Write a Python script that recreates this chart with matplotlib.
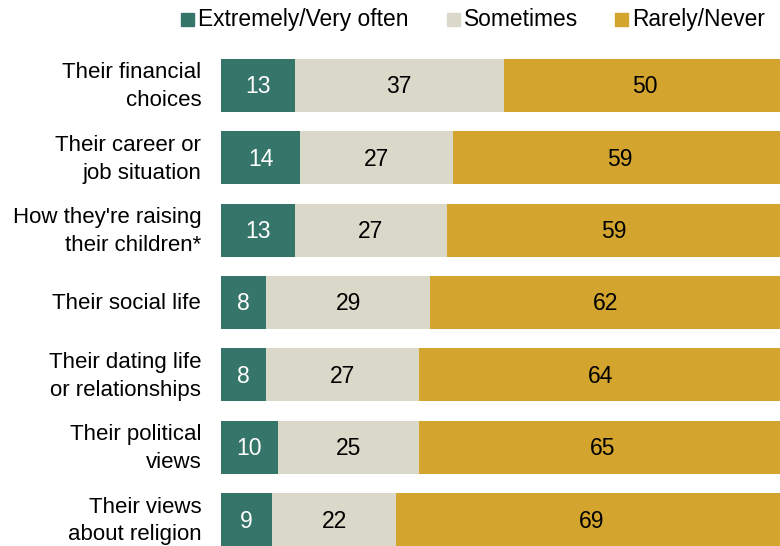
import matplotlib.pyplot as plt
from matplotlib.patches import Rectangle

plt.rcParams['font.family'] = ['Liberation Sans', 'DejaVu Sans']

categories = ["Their financial\nchoices", "Their career or\njob situation",
              "How they're raising\ntheir children*", "Their social life",
              "Their dating life\nor relationships", "Their political\nviews",
              "Their views\nabout religion"]
often = [13, 14, 13, 8, 8, 10, 9]
sometimes = [37, 27, 27, 29, 27, 25, 22]
rarely = [50, 59, 59, 62, 64, 65, 69]
series_names = ["Extremely/Very often", "Sometimes", "Rarely/Never"]
colors = ["#36766a", "#dad8c8", "#d3a52f"]
text_colors = ["white", "black", "black"]

W, H = 780, 546
fig = plt.figure(figsize=(W / 100, H / 100), dpi=100)
ax = fig.add_axes([221 / W, 0, 1 - 221 / W, 487 / H])

bh = 0.73
ys = list(range(len(categories)))
left = [0] * len(categories)
for vals, col, tc in zip([often, sometimes, rarely], colors, text_colors):
    ax.barh(ys, vals, left=left, height=bh, color=col, edgecolor='none')
    for y, v, l in zip(ys, vals, left):
        ax.text(l + v / 2, y + 0.02, str(v), ha='center', va='center', color=tc, fontsize=16.5)
    left = [a + b for a, b in zip(left, vals)]

# chart is cut off a little on the right, like the original
ax.set_xlim(0, 98.8)
ax.set_ylim(len(categories) - 1 + bh / 2, -bh / 2)
ax.axis('off')

for y, c in zip(ys, categories):
    ax.text(-3.5, y + 0.02, c, ha='right', va='center', fontsize=16, linespacing=1.43)

# legend
leg_x = [181, 447, 615]
for x, name, col in zip(leg_x, series_names, colors):
    fig.add_artist(Rectangle((x / W, 1 - 26 / H), 13 / W, 13 / H,
                             transform=fig.transFigure, color=col))
    fig.text((x + 17) / W, 1 - 19.5 / H, name, ha='left', va='center', fontsize=16.4)

fig.savefig("out.png", dpi=100)
